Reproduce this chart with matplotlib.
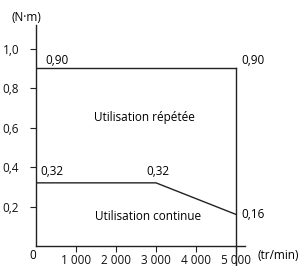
import matplotlib.pyplot as plt

plt.rcParams['font.family'] = ['Open Sans', 'DejaVu Sans']
plt.rcParams['font.size'] = 8.5

# Data
speed_cont = [0, 3000, 5000]
torque_cont = [0.32, 0.32, 0.16]
speed_rep = [0, 5000]
torque_rep = [0.90, 0.90]
x_ticks = [1000, 2000, 3000, 4000, 5000]
x_labels = ["1 000", "2 000", "3 000", "4 000", "5 000"]
y_ticks = [0.2, 0.4, 0.6, 0.8, 1.0]
y_labels = ["0,2", "0,4", "0,6", "0,8", "1,0"]

col = '#222222'

fig = plt.figure(figsize=(2.99, 2.66), dpi=100)
ax = fig.add_axes([36 / 299, 20 / 266, 209 / 299, 221 / 266])
ax.set_xlim(0, 5225)
ax.set_ylim(0, 1.12)

for s in ['top', 'right']:
    ax.spines[s].set_visible(False)
for s in ['left', 'bottom']:
    ax.spines[s].set_color(col)
    ax.spines[s].set_linewidth(1.0)

ax.plot(speed_cont, torque_cont, color=col, lw=1.0)
ax.plot(speed_rep, torque_rep, color=col, lw=1.0)
ax.plot([speed_rep[-1], speed_rep[-1]], [torque_rep[-1], -0.096],
        color=col, lw=1.0, clip_on=False)

ax.set_xticks(x_ticks)
ax.set_xticklabels(x_labels)
ax.set_yticks(y_ticks)
ax.set_yticklabels(y_labels)
ax.tick_params(axis='both', length=4, width=0.8, color=col, labelcolor='#111111')
ax.tick_params(axis='y', pad=8)
ax.tick_params(axis='x', pad=1.5)

# value annotations
ax.text(225, 0.92, "0,90", ha='left', va='baseline')
ax.text(5125, 0.92, "0,90", ha='left', va='baseline')
ax.text(100, 0.36, "0,32", ha='left', va='baseline')
ax.text(2750, 0.36, "0,32", ha='left', va='baseline')
ax.text(5125, 0.16, "0,16", ha='left', va='center')

ax.text(2700, 0.653, "Utilisation répétée", ha='center', va='center')
ax.text(2800, 0.152, "Utilisation continue", ha='center', va='center')

ax.text(-5, -0.05, "0", ha='right', va='center')
ax.text(-600, 1.16, "(N·m)", ha='left', va='center', clip_on=False)
ax.text(5550, -0.05, "(tr/min)", ha='left', va='center', clip_on=False)

fig.savefig('out.png', dpi=100)
